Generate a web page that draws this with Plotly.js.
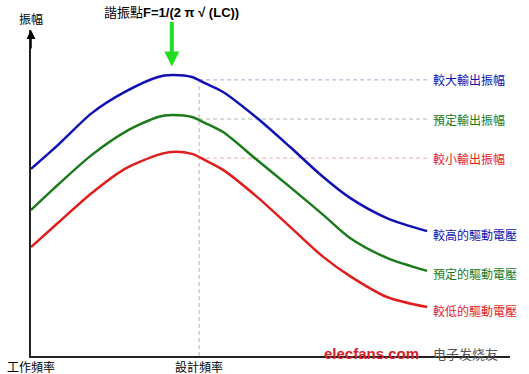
<!DOCTYPE html>
<html>
<head>
<meta charset="utf-8">
<script src="https://cdn.plot.ly/plotly-3.0.1.min.js"></script>
<style>html,body{margin:0;padding:0;background:#fff;}#chart{width:529px;height:374px;}</style>
</head>
<body>
<div id="chart"></div>
<script>
// Frequency (arbitrary units) and amplitude (arbitrary units)
const freq = [0, 5.6, 12.7, 19.6, 26.5, 29.4, 33.6, 36.3, 40.1, 47.2, 54.1, 61.0, 66.6, 74.3, 82.7];
const ampHigh = [57.4, 64.7, 74.5, 81.0, 85.6, 86.2, 85.6, 83.7, 81.0, 73.0, 64.1, 54.9, 48.5, 42.3, 38.3];
const ampRated = [44.8, 52.5, 61.7, 68.7, 73.3, 73.9, 73.3, 71.5, 68.7, 60.1, 51.8, 43.3, 36.2, 30.1, 26.1];
const ampLow = [33.4, 40.8, 50.0, 57.4, 61.7, 62.6, 62.0, 60.1, 57.1, 48.8, 39.6, 30.4, 24.5, 18.1, 15.0];

const seriesNames = ['較高的驅動電壓', '預定的驅動電壓', '較低的驅動電壓'];
const outputNames = ['較大輸出振幅', '預定輸出振幅', '較小輸出振幅'];
const outputLevels = [84.7, 72.7, 60.7];
const resonanceFreq = 29.4;
const designFreq = 35.1;
const guideEnd = 82.7;
const colors = ['#1010b4', '#1c7a1c', '#e01e1e'];
const guideColors = ['#a9a9d6', '#a9b8a9', '#e6a9b0'];

const allAmps = [ampHigh, ampRated, ampLow];
const traces = [];
// guide lines
traces.push({x: [designFreq, designFreq], y: [0, outputLevels[0]], mode: 'lines',
  line: {color: '#b8b8b8', width: 1, dash: '4px,3px'}, hoverinfo: 'skip', showlegend: false});
outputLevels.forEach((lv, i) => {
  traces.push({x: [designFreq, guideEnd], y: [lv, lv], mode: 'lines',
    line: {color: guideColors[i], width: 1, dash: '4px,3px'}, hoverinfo: 'skip', showlegend: false});
});
allAmps.forEach((a, i) => {
  traces.push({x: freq, y: a, mode: 'lines', name: seriesNames[i],
    line: {color: colors[i], width: 2.5, shape: 'spline', smoothing: 0.8}, showlegend: false});
});

const cjk = '"Noto Sans CJK TC", "Noto Sans", sans-serif';
const ann = [];
outputNames.forEach((t, i) => {
  ann.push({x: guideEnd, y: outputLevels[i], xref: 'x', yref: 'y', text: t, showarrow: false,
    xanchor: 'left', xshift: 4, font: {family: cjk, size: 12, color: colors[i]}});
});
seriesNames.forEach((t, i) => {
  const a = allAmps[i];
  ann.push({x: freq[freq.length - 1], y: a[a.length - 1], xref: 'x', yref: 'y', text: t, showarrow: false,
    xanchor: 'left', xshift: 4, yshift: -3, font: {family: cjk, size: 12, color: colors[i]}});
});
// title
ann.push({x: resonanceFreq, y: 1, xref: 'x', yref: 'paper', yshift: 18, yanchor: 'middle',
  text: '諧振點<b>F=1/(2 π √ (LC))</b>', showarrow: false,
  font: {family: '"Liberation Sans", Arial, ' + cjk, size: 13, color: '#000'}});
// green arrow to resonance peak
ann.push({x: resonanceFreq, y: 88.8, xref: 'x', yref: 'y', text: '', showarrow: true,
  ax: 0, ay: -46, arrowcolor: '#22dd22', arrowwidth: 4, arrowhead: 2, arrowsize: 0.75});
// y-axis arrow
ann.push({x: 0, y: 1, xref: 'x', yref: 'paper', text: '', showarrow: true,
  ax: 0, ay: 20, arrowcolor: '#000', arrowwidth: 1.5, arrowhead: 2, arrowsize: 1.2});
// axis labels
ann.push({x: 0, y: 1, xref: 'x', yref: 'paper', yshift: 22, text: '振幅', showarrow: false,
  font: {family: cjk, size: 12, color: '#000'}});
ann.push({x: 0, y: 0, xref: 'x', yref: 'paper', yshift: -10, yanchor: 'middle', text: '工作頻率', showarrow: false,
  font: {family: cjk, size: 12, color: '#000'}});
ann.push({x: designFreq, y: 0, xref: 'x', yref: 'paper', yshift: -10, yanchor: 'middle', text: '設計頻率', showarrow: false,
  font: {family: cjk, size: 12, color: '#000'}});
// watermark
ann.push({x: 60.8, y: 0, xref: 'x', yref: 'paper', yshift: 3, xanchor: 'left', yanchor: 'middle',
  text: '<b>elecfans.com</b>', showarrow: false,
  font: {family: '"Liberation Sans", Arial, sans-serif', size: 15, color: '#d8202a'}});
ann.push({x: 83.5, y: 0, xref: 'x', yref: 'paper', yshift: 3, xanchor: 'left', yanchor: 'middle',
  text: '电子发烧友', showarrow: false,
  font: {family: '"Noto Sans CJK SC", sans-serif', size: 13, color: '#555'}});

const layout = {
  width: 529, height: 374,
  margin: {l: 31, r: 19, t: 30, b: 18},
  paper_bgcolor: '#fff', plot_bgcolor: '#fff',
  xaxis: {range: [0, 100], showline: true, linecolor: '#222', linewidth: 2, showgrid: false,
    zeroline: false, showticklabels: false, ticks: '', fixedrange: true},
  yaxis: {range: [0, 100], showline: true, linecolor: '#222', linewidth: 2, showgrid: false,
    zeroline: false, showticklabels: false, ticks: '', fixedrange: true},
  annotations: ann,
  showlegend: false
};
Plotly.newPlot('chart', traces, layout, {displayModeBar: false, staticPlot: true});
</script>
</body>
</html>
